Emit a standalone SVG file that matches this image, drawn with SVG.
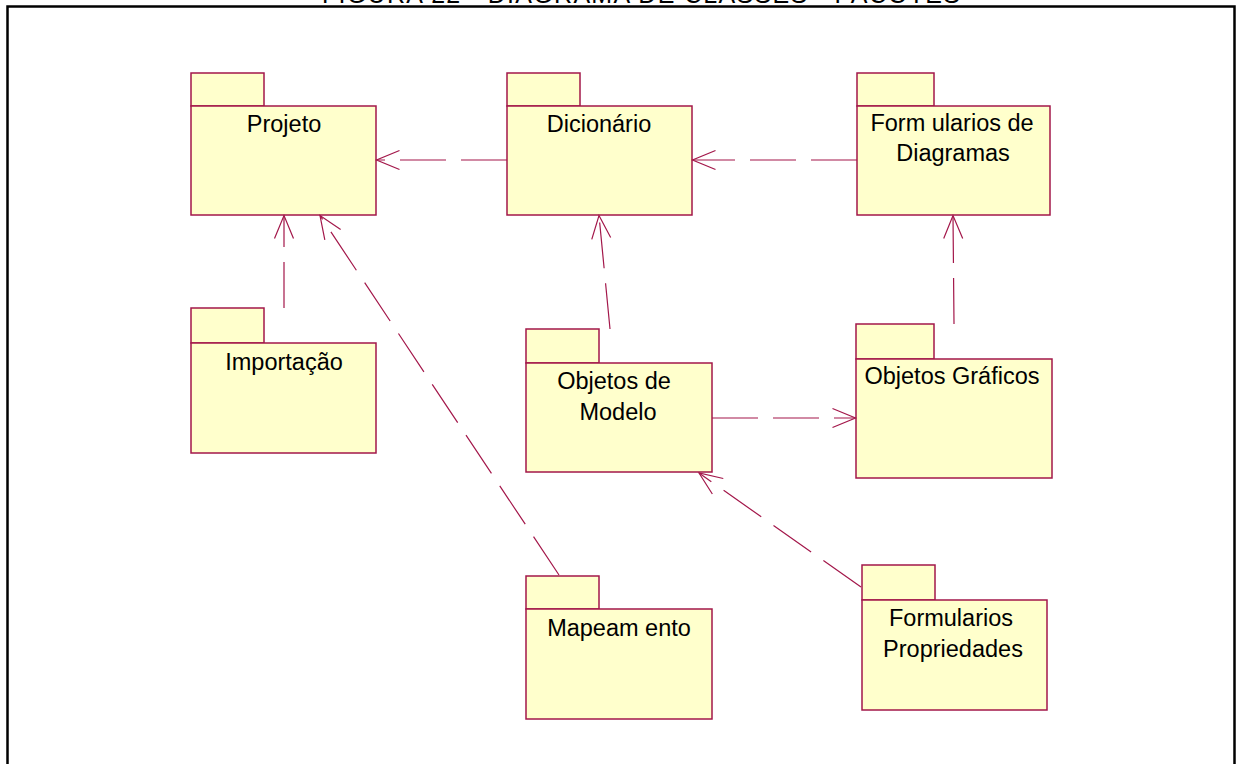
<svg xmlns="http://www.w3.org/2000/svg" width="1237" height="764" viewBox="0 0 1237 764">
  <defs>
    <style>
      .pkg rect { fill: #FFFFCC; stroke: #A3174A; stroke-width: 1.5; }
      .lbl { font-family: "Liberation Sans", Arial, sans-serif; font-size: 23.5px; fill: #000; text-anchor: middle; }
      .dep { fill: none; stroke: #A3174A; stroke-width: 1.2; stroke-dasharray: 46 15; marker-end: url(#open); }
      .frame { fill: none; stroke: #000; stroke-width: 2.5; }
      .title { font-family: "Liberation Sans", Arial, sans-serif; font-size: 25px; fill: #000; }
    </style>
    <!-- open arrowhead for dependency lines -->
    <marker id="open" markerUnits="userSpaceOnUse" markerWidth="30" markerHeight="30" viewBox="-26 -13 30 26" refX="0" refY="0" orient="auto">
      <path d="M-23,-9.5 L0,0 L-23,9.5" fill="none" stroke="#A3174A" stroke-width="1.2"/>
    </marker>
  </defs>

  <rect width="1237" height="764" fill="#FFFFFF"/>

  <!-- page caption and frame -->
  <text class="title" x="322" y="3" textLength="638" lengthAdjust="spacing">FIGURA 22 - DIAGRAMA DE CLASSES - PACOTES</text>
  <path class="frame" d="M7.5,770 V6.5 H1234.5 V770"/>

  <!-- packages -->
  <g id="projeto" class="pkg">
    <rect x="191" y="73" width="73" height="33"/>
    <rect x="191" y="106" width="185" height="109"/>
    <text class="lbl" x="284" y="132">Projeto</text>
  </g>

  <g id="dicionario" class="pkg">
    <rect x="507" y="73" width="73" height="33"/>
    <rect x="507" y="106" width="185" height="109"/>
    <text class="lbl" x="599" y="132">Dicionário</text>
  </g>

  <g id="formularios-diagramas" class="pkg">
    <rect x="857" y="73" width="77" height="33"/>
    <rect x="857" y="106" width="193" height="109"/>
    <text class="lbl" x="952" y="131">Form ularios de</text>
    <text class="lbl" x="953" y="161">Diagramas</text>
  </g>

  <g id="importacao" class="pkg">
    <rect x="191" y="308" width="73" height="35"/>
    <rect x="191" y="343" width="185" height="110"/>
    <text class="lbl" x="284" y="370">Importação</text>
  </g>

  <g id="objetos-modelo" class="pkg">
    <rect x="526" y="329" width="73" height="34"/>
    <rect x="526" y="363" width="186" height="109"/>
    <text class="lbl" x="614" y="389">Objetos de</text>
    <text class="lbl" x="618" y="420">Modelo</text>
  </g>

  <g id="objetos-graficos" class="pkg">
    <rect x="856" y="324" width="78" height="35"/>
    <rect x="856" y="359" width="196" height="119"/>
    <text class="lbl" x="952" y="384">Objetos Gráficos</text>
  </g>

  <g id="mapeamento" class="pkg">
    <rect x="526" y="576" width="73" height="33"/>
    <rect x="526" y="609" width="186" height="110"/>
    <text class="lbl" x="619" y="636">Mapeam ento</text>
  </g>

  <g id="formularios-propriedades" class="pkg">
    <rect x="862" y="565" width="73" height="35"/>
    <rect x="862" y="600" width="185" height="110"/>
    <text class="lbl" x="951" y="626">Formularios</text>
    <text class="lbl" x="953" y="657">Propriedades</text>
  </g>

  <!-- dependencies -->
  <g id="connectors">
    <path class="dep" d="M284,308 L284,215.5"/>
    <path class="dep" d="M559,575 L320,215.5"/>
    <path class="dep" d="M507,160 L376.5,160"/>
    <path class="dep" d="M610,329 L599,215.5"/>
    <path class="dep" d="M857,160 L692.5,160"/>
    <path class="dep" d="M954,324 L953,215.5"/>
    <path class="dep" d="M712,418 L855.5,418"/>
    <path class="dep" d="M861,587 L699,473"/>
  </g>
</svg>
